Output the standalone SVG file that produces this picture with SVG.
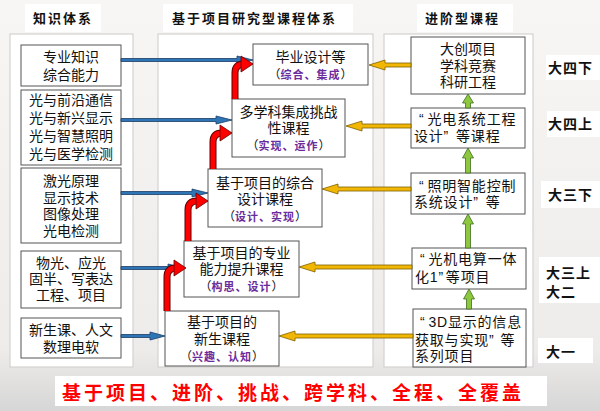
<svg xmlns="http://www.w3.org/2000/svg" width="600" height="411" viewBox="0 0 600 411">
<defs>
<linearGradient id="bg" x1="0" y1="0" x2="0" y2="1">
<stop offset="0" stop-color="#f8f6f4"/>
<stop offset="0.85" stop-color="#eeecea"/>
<stop offset="1" stop-color="#d6d6d6"/>
</linearGradient>
<style>
text{font-family:"Liberation Sans","Noto Sans CJK SC",sans-serif}
.panel{fill:#fff;stroke:#d4d2d0;stroke-width:1.2}
.box{fill:#fff;stroke:#555;stroke-width:1}
.hdbg{fill:#fff}
.hd{font-size:13px;font-weight:bold;fill:#111;letter-spacing:2px}
.t{font-size:14px;fill:#111}
.tc{text-anchor:middle}
.r{font-size:14px;fill:#111;letter-spacing:0.8px}
.sub{font-size:12px;fill:#111}
.p{fill:#6a2c9c;font-size:11px;font-weight:bold;letter-spacing:1px}
.yr{font-size:14px;font-weight:bold;fill:#111;letter-spacing:1px}
.bottom{font-size:19px;font-weight:bold;fill:#ff0000;letter-spacing:3px}
.blue{fill:#2e75b6;stroke:#1b3c66;stroke-width:0.8}
.yel{fill:#f2b705;stroke:#7f6000;stroke-width:0.8}
.grn{fill:#8dc63f;stroke:#3f6e1e;stroke-width:0.8}
.rOut{fill:none;stroke:#5a0000;stroke-width:7}
.rIn{fill:none;stroke:#ff0000;stroke-width:5}
.rHead{fill:#ff0000;stroke:#5a0000;stroke-width:0.8}
</style>
</defs>
<rect x="0" y="0" width="600" height="411" fill="url(#bg)"/>

<!-- headers -->
<g id="headers">
<rect class="hdbg" x="25" y="4" width="76" height="28"/>
<text class="hd" x="33" y="23">知识体系</text>
<rect class="hdbg" x="163" y="4" width="190" height="28"/>
<text class="hd" x="172" y="23">基于项目研究型课程体系</text>
<rect class="hdbg" x="417" y="4" width="96" height="28"/>
<text class="hd" x="425" y="23">进阶型课程</text>
</g>

<!-- panels -->
<g id="panels">
<rect class="panel" x="10" y="34" width="123" height="333"/>
<rect class="panel" x="158" y="34" width="215" height="333"/>
<rect class="panel" x="384" y="34" width="149" height="333"/>
</g>

<!-- year labels -->
<g id="years">
<rect class="hdbg" x="546" y="55" width="54" height="25"/>
<text class="yr" x="548" y="73">大四下</text>
<rect class="hdbg" x="547" y="111" width="53" height="26"/>
<text class="yr" x="548" y="129">大四上</text>
<rect class="hdbg" x="541" y="181" width="59" height="27"/>
<text class="yr" x="548" y="200">大三下</text>
<rect class="hdbg" x="539" y="257" width="61" height="46"/>
<text class="yr" x="546" y="278">大三上<tspan x="546" dy="19">大二</tspan></text>
<rect class="hdbg" x="538" y="338" width="55" height="25"/>
<text class="yr" x="546" y="357">大一</text>
</g>

<!-- left nodes -->
<g id="k1"><rect class="box" x="21" y="45" width="100" height="41"/>
<text class="t tc" x="71" y="62">专业知识<tspan x="71" dy="18">综合能力</tspan></text></g>
<g id="k2"><rect class="box" x="21" y="90" width="100" height="75"/>
<text class="t tc" x="71" y="105">光与前沿通信<tspan x="71" dy="18">光与新兴显示</tspan><tspan x="71" dy="18">光与智慧照明</tspan><tspan x="71" dy="18">光与医学检测</tspan></text></g>
<g id="k3"><rect class="box" x="21" y="168" width="100" height="75"/>
<text class="t tc" x="71" y="186">激光原理<tspan x="71" dy="16.5">显示技术</tspan><tspan x="71" dy="16.5">图像处理</tspan><tspan x="71" dy="16.5">光电检测</tspan></text></g>
<g id="k4"><rect class="box" x="21" y="251" width="100" height="57"/>
<text class="t tc" x="71" y="268">物光、应光<tspan x="71" dy="16">固半、写表达</tspan><tspan x="71" dy="16">工程、项目</tspan></text></g>
<g id="k5"><rect class="box" x="21" y="318" width="100" height="40"/>
<text class="t tc" x="71" y="335">新生课、人文<tspan x="71" dy="17">数理电软</tspan></text></g>

<!-- middle nodes -->
<g id="m5"><rect class="box" x="253" y="44" width="115" height="41"/>
<text class="t tc" x="310.5" y="62">毕业设计等<tspan class="sub" x="310.5" dy="16.5">（<tspan class="p">综合、集成</tspan>）</tspan></text></g>
<g id="m4"><rect class="box" x="232" y="99" width="113" height="58"/>
<text class="t tc" x="288.5" y="117">多学科集成挑战<tspan x="288.5" dy="15.5">性课程</tspan><tspan class="sub" x="288.5" dy="17">（<tspan class="p">实现、运作</tspan>）</tspan></text></g>
<g id="m3"><rect class="box" x="208" y="169" width="114" height="58"/>
<text class="t tc" x="265" y="188">基于项目的综合<tspan x="265" dy="15.5">设计课程</tspan><tspan class="sub" x="265" dy="17">（<tspan class="p">设计、实现</tspan>）</tspan></text></g>
<g id="m2"><rect class="box" x="184" y="241" width="115" height="56"/>
<text class="t tc" x="241.5" y="258">基于项目的专业<tspan x="241.5" dy="16">能力提升课程</tspan><tspan class="sub" x="241.5" dy="16.5">（<tspan class="p">构思、设计</tspan>）</tspan></text></g>
<g id="m1"><rect class="box" x="165" y="311" width="114" height="55"/>
<text class="t tc" x="222" y="327">基于项目的<tspan x="222" dy="17">新生课程</tspan><tspan class="sub" x="222" dy="16.5">（<tspan class="p">兴趣、认知</tspan>）</tspan></text></g>

<!-- right nodes -->
<g id="r5"><rect class="box" x="411" y="37" width="114" height="57"/>
<text class="t tc" x="468" y="54">大创项目<tspan x="468" dy="16.5">学科竞赛</tspan><tspan x="468" dy="16.5">科研工程</tspan></text></g>
<g id="r4"><rect class="box" x="411" y="108" width="114" height="40"/>
<text class="r" x="419" y="124">“<tspan dx="3">光电系统工程</tspan><tspan x="414" dy="17">设计”</tspan><tspan dx="7">等课程</tspan></text></g>
<g id="r3"><rect class="box" x="411" y="173" width="114" height="41"/>
<text class="r" x="419" y="191">“<tspan dx="3">照明智能控制</tspan><tspan x="414" dy="16">系统设计”</tspan><tspan dx="7">等</tspan></text></g>
<g id="r2"><rect class="box" x="412" y="248" width="114" height="41"/>
<text class="r" x="420" y="264">“<tspan dx="3">光机电算一体</tspan><tspan x="415" dy="18">化1”</tspan><tspan dx="2">等项目</tspan></text></g>
<g id="r1"><rect class="box" x="413" y="309" width="113" height="58"/>
<text class="r" x="420" y="327">“<tspan dx="3">3D显示的信息</tspan><tspan x="415" dy="18">获取与实现”</tspan><tspan dx="6">等</tspan><tspan x="415" dy="16">系列项目</tspan></text></g>

<!-- connectors -->
<g id="connectors">
<!-- blue: knowledge -> courses -->
<polygon class="blue" points="121,58.5 237,58.5 237,56 253,60 237,64 237,61.5 121,61.5"/>
<polygon class="blue" points="121,118.5 216,118.5 216,116 232,120 216,124 216,121.5 121,121.5"/>
<polygon class="blue" points="121,191.5 192,191.5 192,189 208,193 192,197 192,194.5 121,194.5"/>
<polygon class="blue" points="121,266.5 168,266.5 168,264 184,268 168,272 168,269.5 121,269.5"/>
<polygon class="blue" points="121,334.5 150,334.5 150,332 165,336 150,340 150,337.5 121,337.5"/>
<!-- yellow: progressive -> courses -->
<polygon class="yel" points="411,63 385,63 385,60 369,65 385,70 385,67 411,67"/>
<polygon class="yel" points="411,124 362,124 362,121 346,126 362,131 362,128 411,128"/>
<polygon class="yel" points="411,187 338,187 338,184 322,189 338,194 338,191 411,191"/>
<polygon class="yel" points="412,265 315,265 315,262 299,267 315,272 315,269 412,269"/>
<polygon class="yel" points="413,334 295,334 295,331 279,336 295,341 295,338 413,338"/>
<!-- green: progression upward -->
<polygon class="grn" points="465.5,108 465.5,103 462.5,103 468,94 473.5,103 470.5,103 470.5,108"/>
<polygon class="grn" points="465.5,173 465.5,158 462.5,158 468,148 473.5,158 470.5,158 470.5,173"/>
<polygon class="grn" points="465.5,248 465.5,224 462.5,224 468,214 473.5,224 470.5,224 470.5,248"/>
<polygon class="grn" points="466.5,309 466.5,299 463.5,299 469,289 474.5,299 471.5,299 471.5,309"/>
<!-- red curved: course progression -->
<path class="rOut" d="M167 311 V277 Q167 268 176 268"/>
<path class="rIn" d="M167 311 V277 Q167 268 176 268"/>
<polygon class="rHead" points="174,260 186,268 174,276"/>
<path class="rOut" d="M188 241 V210 Q188 201 197 201"/>
<path class="rIn" d="M188 241 V210 Q188 201 197 201"/>
<polygon class="rHead" points="196,193 208,201 196,209"/>
<path class="rOut" d="M213 169 V142 Q213 133 222 133"/>
<path class="rIn" d="M213 169 V142 Q213 133 222 133"/>
<polygon class="rHead" points="220,125 232,133 220,141"/>
<path class="rOut" d="M235 99 V73 Q235 64 244 64"/>
<path class="rIn" d="M235 99 V73 Q235 64 244 64"/>
<polygon class="rHead" points="241,56 253,64 241,72"/>
</g>

<!-- bottom banner -->
<g id="banner">
<rect class="hdbg" x="55" y="376" width="492" height="30"/>
<text class="bottom" x="62" y="400">基于项目、进阶、挑战、跨学科、全程、全覆盖</text>
</g>
</svg>
